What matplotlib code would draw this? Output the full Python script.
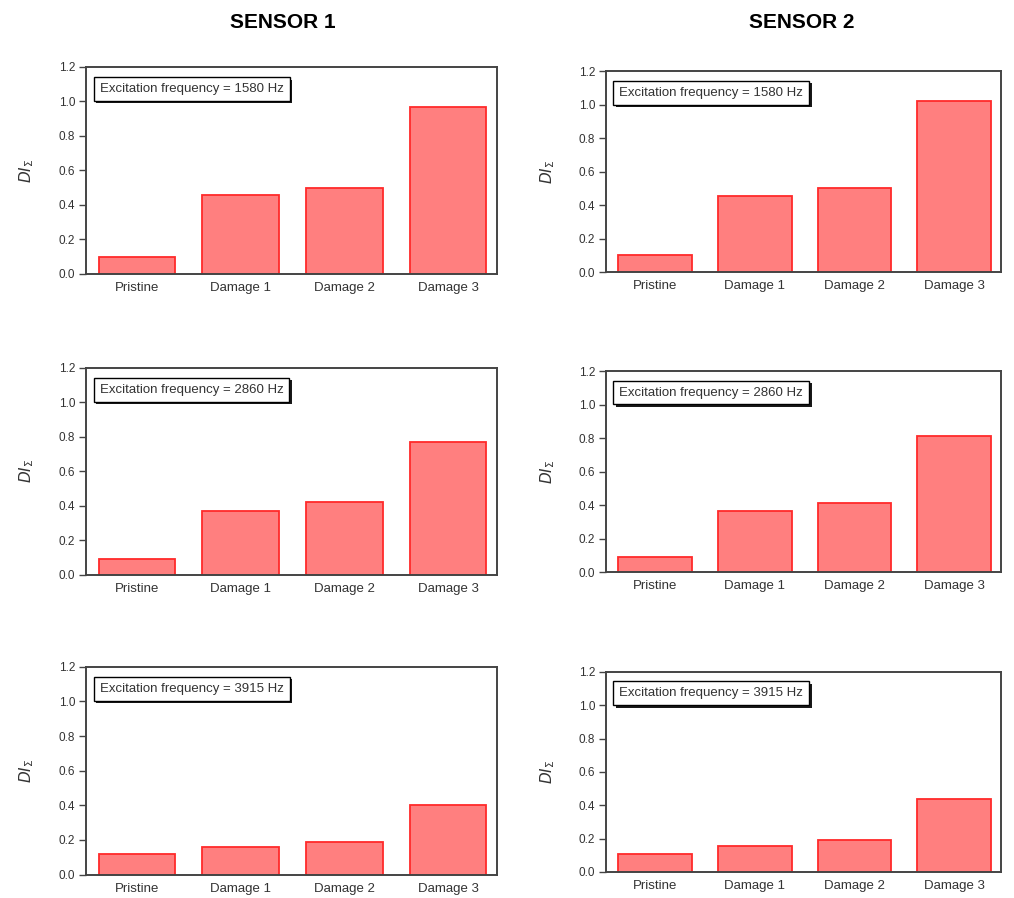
import matplotlib
matplotlib.use("Agg")
import matplotlib.pyplot as plt
import matplotlib.patheffects as pe
import numpy as np

plt.rcParams['font.family'] = ['Liberation Sans', 'DejaVu Sans']
plt.rcParams['mathtext.fontset'] = 'dejavusans'

# damage index per state, one row per excitation frequency
states = ['Pristine', 'Damage 1', 'Damage 2', 'Damage 3']
frequencies = [1580, 2860, 3915]
sensor1 = [
    [0.10, 0.46, 0.50, 0.97],
    [0.09, 0.37, 0.42, 0.77],
    [0.12, 0.16, 0.19, 0.40],
]
sensor2 = [
    [0.10, 0.455, 0.50, 1.02],
    [0.09, 0.365, 0.41, 0.81],
    [0.11, 0.155, 0.19, 0.44],
]

fig = plt.figure(figsize=(10.14, 8.98), dpi=100)

# axes rectangles (left, bottom, width, height) for each column
left_rects = [
    [0.085, 0.695, 0.405, 0.2305],
    [0.085, 0.360, 0.405, 0.2305],
    [0.085, 0.026, 0.405, 0.2316],
]
right_rects = [
    [0.598, 0.697, 0.389, 0.2238],
    [0.598, 0.363, 0.389, 0.2238],
    [0.598, 0.029, 0.389, 0.2227],
]

frame_col = '#444444'
text_col = '#333333'


def draw_panel(rect, values, freq):
    ax = fig.add_axes(rect)
    x = np.arange(len(states))
    ax.bar(x, values, width=0.74, color='#ff7f7f', edgecolor='#ff2a2a', linewidth=1.3)
    ax.set_xlim(-0.49, 3.47)
    ax.set_ylim(0, 1.2)
    ax.set_yticks(np.arange(0, 1.21, 0.2))
    ax.set_yticklabels(['%.1f' % v for v in np.arange(0, 1.21, 0.2)])
    ax.set_xticks(x)
    ax.set_xticklabels(states, fontsize=9.5, color=text_col)
    ax.tick_params(axis='x', length=0, pad=6)
    ax.tick_params(axis='y', direction='out', length=5, width=1, colors=frame_col,
                   labelsize=8.5, labelcolor=text_col, pad=3)
    for s in ax.spines.values():
        s.set_color(frame_col)
        s.set_linewidth(1.4)
    ax.set_ylabel(r'$DI_{\Sigma}$', fontsize=11, color=text_col, labelpad=16)
    t = ax.text(0.033, 0.893, 'Excitation frequency = %d Hz' % freq,
                transform=ax.transAxes, fontsize=9.5, color=text_col,
                va='center', ha='left',
                bbox=dict(boxstyle='square,pad=0.45', facecolor='white',
                          edgecolor='black', linewidth=1.0))
    t.get_bbox_patch().set_path_effects([
        pe.SimplePatchShadow(offset=(1.8, -1.8), shadow_rgbFace='black', alpha=0.9),
        pe.Normal()])
    return ax


for rect, vals, f in zip(left_rects, sensor1, frequencies):
    draw_panel(rect, vals, f)
for rect, vals, f in zip(right_rects, sensor2, frequencies):
    draw_panel(rect, vals, f)

fig.text(0.279, 0.975, 'SENSOR 1', fontsize=15, fontweight='bold', ha='center', va='center')
fig.text(0.791, 0.975, 'SENSOR 2', fontsize=15, fontweight='bold', ha='center', va='center')

fig.savefig('out.png', dpi=100)
